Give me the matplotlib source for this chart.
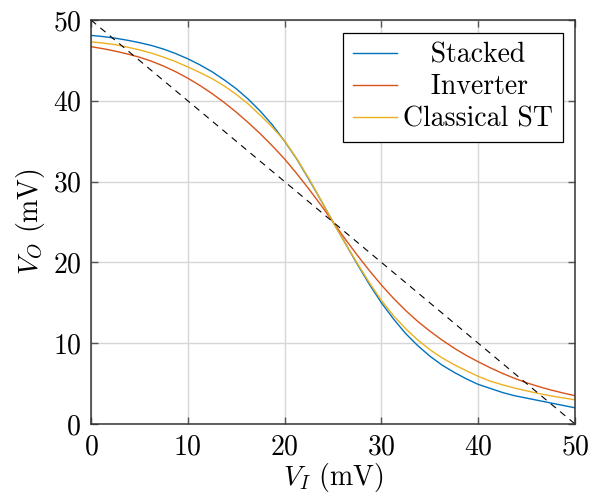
import matplotlib
matplotlib.use("Agg")
import matplotlib.pyplot as plt

# input voltage grid (mV)
v_in = [0, 1.25, 2.5, 3.75, 5, 6.25, 7.5, 8.75, 10, 11.25,
        12.5, 13.75, 15, 16.25, 17.5, 18.75, 20, 21.25, 22.5, 23.75,
        25, 26.25, 27.5, 28.75, 30, 31.25, 32.5, 33.75, 35, 36.25,
        37.5, 38.75, 40, 41.25, 42.5, 43.75, 45, 46.25, 47.5, 48.75, 50]

# output voltage (mV)
stacked = [48.1, 47.95, 47.75, 47.5, 47.2, 46.85, 46.4, 45.85, 45.2, 44.45,
           43.6, 42.6, 41.5, 40.2, 38.7, 37.0, 35.0, 32.8, 30.3, 27.7,
           25.0, 22.4, 19.8, 17.3, 15.0, 13.0, 11.2, 9.7, 8.4, 7.3,
           6.4, 5.6, 4.9, 4.4, 3.9, 3.5, 3.2, 2.9, 2.6, 2.3, 2.0]
inverter = [46.7, 46.45, 46.15, 45.8, 45.4, 44.9, 44.3, 43.6, 42.8, 41.9,
            40.9, 39.8, 38.6, 37.3, 35.9, 34.4, 32.8, 31.0, 29.1, 27.1,
            25.0, 22.9, 20.9, 19.0, 17.2, 15.55, 14.05, 12.7, 11.5, 10.4,
            9.4, 8.5, 7.7, 6.95, 6.27, 5.65, 5.1, 4.63, 4.21, 3.84, 3.5]
classical_st = [47.3, 47.15, 46.95, 46.65, 46.3, 45.9, 45.4, 44.85, 44.2, 43.5,
                42.75, 41.85, 40.8, 39.6, 38.2, 36.7, 35.05, 32.85, 30.4, 27.7,
                25.0, 22.4, 19.9, 17.5, 15.3, 13.4, 11.8, 10.4, 9.2, 8.2,
                7.35, 6.6, 5.9, 5.3, 4.85, 4.45, 4.1, 3.77, 3.49, 3.23, 3.0]

# ideal reference line
ideal_x = [0, 50]
ideal_y = [50, 0]

ticks = [0, 10, 20, 30, 40, 50]

plt.rcParams["font.family"] = "serif"
plt.rcParams["font.serif"] = ["cmr10"]
plt.rcParams["mathtext.fontset"] = "cm"
plt.rcParams["axes.formatter.use_mathtext"] = True
plt.rcParams["font.size"] = 20

fig = plt.figure(figsize=(5.9, 4.93), dpi=100)
ax = fig.add_axes([0.1542, 0.1400, 0.8204, 0.8194])

ax.plot(v_in, stacked, color="#0072BD", lw=1.0, label="   Stacked")
ax.plot(v_in, inverter, color="#D95319", lw=1.0, label="   Inverter")
ax.plot(v_in, classical_st, color="#EDB120", lw=1.0, label="Classical ST")
ax.plot(ideal_x, ideal_y, color="black", lw=0.8, linestyle=(0, (6, 5)))

ax.set_xlim(0, 50)
ax.set_ylim(0, 50)
ax.set_xticks(ticks)
ax.set_yticks(ticks)
ax.grid(True, color="#d6d6d6", lw=1.0)
ax.set_axisbelow(True)
ax.tick_params(direction="in", length=5, width=1.0, color="#555555",
               top=True, right=True, pad=7, labelsize=20)
for s in ax.spines.values():
    s.set_linewidth(1.1)
    s.set_color("#333333")

ax.set_xlabel(r"$V_I$ (mV)", fontsize=20, labelpad=1)
ax.set_ylabel(r"$V_O$ (mV)", fontsize=20, labelpad=4)

leg = ax.legend(loc="upper right", fancybox=False, framealpha=1.0,
                edgecolor="black", handlelength=1.6, handletextpad=0.2,
                borderaxespad=0.45, borderpad=0.35, labelspacing=0.2,
                fontsize=20)
leg.get_frame().set_linewidth(0.9)

fig.savefig("out.png", dpi=100)
